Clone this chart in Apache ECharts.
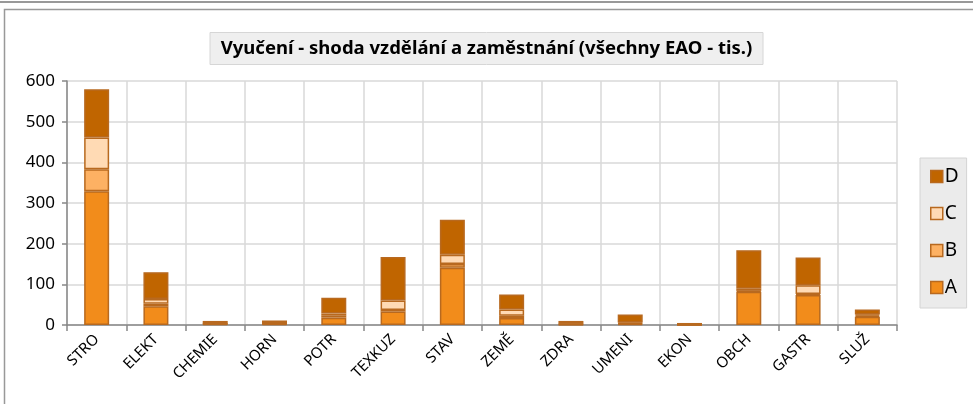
<!DOCTYPE html>
<html>
<head>
<meta charset="utf-8">
<script src="https://cdn.jsdelivr.net/npm/echarts@6/dist/echarts.min.js"></script>
<style>
  html, body { margin: 0; padding: 0; background: #fff; }
  #chart { width: 973px; height: 404px; }
</style>
</head>
<body>
<div id="chart"></div>
<script>
// obory (kategorie) a hodnoty v tisících
const categories = ['STRO', 'ELEKT', 'CHEMIE', 'HORN', 'POTR', 'TEXKUZ', 'STAV', 'ZEMĚ', 'ZDRA', 'UMENI', 'EKON', 'OBCH', 'GASTR', 'SLUŽ'];
const valuesA = [329, 46, 2, 2, 18, 33, 141, 17, 1, 2, 0.5, 82, 74, 20];
const valuesB = [54, 6, 0.5, 1, 6, 4, 9, 6, 1, 2, 0.3, 2, 2, 3];
const valuesC = [78, 12, 0.5, 0.5, 4, 23, 23, 15, 1, 2, 0.2, 5, 22, 3];
const valuesD = [119, 66, 7, 7.5, 39, 107, 86, 37, 7, 20, 4, 95, 68, 12];
const yTicks = [0, 100, 200, 300, 400, 500, 600];

const font = '"Noto Sans", "Open Sans", sans-serif';

function bar(name, data, color) {
  return {
    name: name,
    type: 'bar',
    stack: 'total',
    barWidth: 25,
    data: data,
    itemStyle: { color: color, borderColor: '#B8691F', borderWidth: 1.5 }
  };
}

const chart = echarts.init(document.getElementById('chart'));
chart.setOption({
  animation: false,
  textStyle: { fontFamily: font },
  title: {
    text: 'Vyučení - shoda vzdělání a zaměstnání (všechny EAO - tis.)',
    left: 'center',
    top: 32,
    padding: [7, 11, 7, 11],
    backgroundColor: '#EFEFEF',
    borderColor: '#D6D6D6',
    borderWidth: 1,
    textStyle: { fontFamily: font, fontSize: 18.5, fontWeight: 'bold', color: '#000' }
  },
  legend: {
    orient: 'vertical',
    left: 920,
    top: 158,
    padding: [9, 8, 11, 10],
    itemGap: 18,
    itemWidth: 12,
    itemHeight: 12,
    icon: 'rect',
    backgroundColor: '#EBEBEB',
    borderColor: '#D4D4D4',
    borderWidth: 1,
    data: ['D', 'C', 'B', 'A'],
    itemStyle: { borderColor: '#B8691F', borderWidth: 1.5 },
    textStyle: { fontSize: 19, color: '#000', padding: [0, 0, 0, -3] }
  },
  grid: { left: 67, right: 76, top: 81, bottom: 79, containLabel: false },
  xAxis: {
    type: 'category',
    data: categories,
    axisLine: { lineStyle: { color: '#888', width: 1.5 } },
    axisTick: { show: true, length: 6, lineStyle: { color: '#888', width: 1.5 } },
    splitLine: { show: true, lineStyle: { color: '#D9D9D9', width: 1.5 } },
    axisLabel: { rotate: 45, fontSize: 15, color: '#000', margin: 12, interval: 0 }
  },
  yAxis: {
    type: 'value',
    min: yTicks[0],
    max: yTicks[yTicks.length - 1],
    interval: 100,
    axisLine: { show: true, lineStyle: { color: '#888', width: 1.5 } },
    axisTick: { show: true, length: 5, lineStyle: { color: '#888', width: 1.5 } },
    splitLine: { show: true, lineStyle: { color: '#D9D9D9', width: 1.5 } },
    axisLabel: { fontSize: 17, color: '#000', margin: 12 }
  },
  graphic: [
    { type: 'line', shape: { x1: 0, y1: 2, x2: 973, y2: 2 }, style: { stroke: '#999', lineWidth: 2 } },
    { type: 'rect', shape: { x: 4.5, y: 9.5, width: 1000, height: 500 }, style: { fill: 'none', stroke: '#999', lineWidth: 1.5 } }
  ],
  series: [
    bar('A', valuesA, '#F28C1B'),
    bar('B', valuesB, '#FDB163'),
    bar('C', valuesC, '#FFDAB4'),
    bar('D', valuesD, '#C06500')
  ]
});
</script>
</body>
</html>
